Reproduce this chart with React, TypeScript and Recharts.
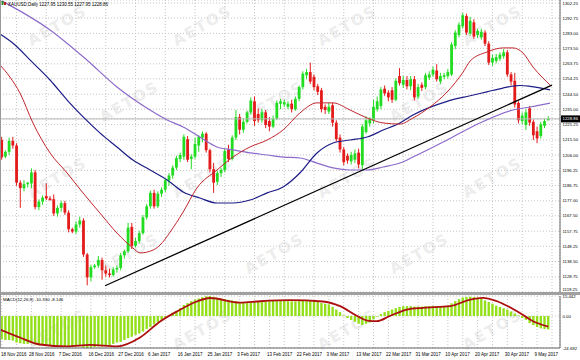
import React from "react";
import {
  ComposedChart,
  Bar,
  Line,
  XAxis,
  YAxis,
  CartesianGrid,
  ReferenceLine,
} from "recharts";

// XAUUSD daily candles, 18 Nov 2016 .. 12 May 2017 (MT4 feed, Sunday bars included)
const open = [
  1215.5, 1205, 1208, 1215, 1212, 1188.5, 1185, 1187.5, 1188, 1195,
  1173, 1176.5, 1180, 1178.5, 1178, 1169, 1172.5, 1175.5, 1169.5, 1159,
  1157.5, 1162, 1164.5, 1143, 1128.5, 1135, 1136, 1139.5, 1133, 1131,
  1130, 1133.5, 1134.5, 1142.5, 1145, 1160.5, 1148.5, 1151.5, 1156.5, 1166.5,
  1173.5, 1182, 1173.5, 1181.5, 1184, 1190, 1193, 1198, 1203.5, 1205,
  1216, 1203.5, 1205, 1212, 1217, 1219.5, 1209, 1197, 1189, 1194.5,
  1196.5, 1209.5, 1203.5, 1217, 1230, 1222, 1227, 1233, 1240, 1232,
  1228, 1233, 1227.5, 1224, 1229, 1238.5, 1238, 1236.5, 1238.5, 1235,
  1241.5, 1249, 1256.5, 1258.5, 1255.5, 1249.5, 1247, 1236.5, 1233.5, 1237.5,
  1226.5, 1217, 1209.5, 1205.5, 1202, 1203, 1207.5, 1199.5, 1220.5, 1226,
  1228, 1235, 1237, 1248, 1245.5, 1247, 1241, 1256, 1250.5, 1253.5,
  1249.5, 1254, 1243, 1250.5, 1249, 1255, 1257, 1259.5, 1252.5, 1255.5,
  1256, 1257, 1275, 1282, 1287.5, 1294, 1283, 1290, 1282, 1280.5,
  1283.5, 1276.5, 1264.5, 1265.5, 1267, 1268.5, 1271, 1257, 1253, 1239,
  1227.5, 1225, 1235.5, 1227, 1221, 1218, 1224.5, 1227.95,
];
const high = [
  1217.5, 1209, 1217, 1217.5, 1213.5, 1190, 1190, 1189, 1197.5, 1196.5,
  1178, 1180.5, 1188, 1180, 1181, 1174, 1177, 1177, 1171, 1160,
  1164, 1167, 1166, 1144, 1136.5, 1137, 1142, 1141, 1136, 1134,
  1135, 1136, 1144, 1146, 1163, 1163, 1153.5, 1158, 1168, 1175,
  1183.5, 1184, 1183, 1185.5, 1191.5, 1194.5, 1199.5, 1205.5, 1207.5, 1219,
  1218, 1206.5, 1217, 1218.5, 1221, 1220.5, 1210, 1201, 1196, 1198,
  1210, 1212.5, 1218.5, 1234.5, 1232, 1229, 1234, 1242.5, 1243, 1235.5,
  1235, 1234.5, 1230, 1231, 1240.5, 1241.5, 1241, 1240, 1241, 1243,
  1250, 1259, 1260.5, 1264.5, 1257, 1251, 1248.5, 1238, 1239, 1239,
  1228, 1219, 1211, 1207, 1208, 1209.5, 1210, 1225.5, 1230.5, 1230,
  1241, 1243, 1249, 1250, 1247, 1249, 1254.5, 1261, 1256, 1256,
  1256, 1256, 1251, 1252, 1258, 1259, 1262, 1263.5, 1258, 1258,
  1260.5, 1277.5, 1285, 1290, 1296, 1295.5, 1293.5, 1292, 1286, 1286,
  1285, 1278, 1269.5, 1270, 1271, 1273, 1272.5, 1258.5, 1258, 1240,
  1233, 1235, 1237, 1228.5, 1224, 1227, 1229, 1230.55,
];
const low = [
  1203, 1204, 1206, 1210, 1186.5, 1172.5, 1183, 1185.5, 1185, 1171.5,
  1171, 1174.5, 1177.5, 1177, 1167.5, 1167, 1170, 1168, 1157, 1156.5,
  1156, 1160, 1141.5, 1123.5, 1126, 1134, 1134.5, 1127, 1129, 1128.5,
  1129, 1131.5, 1133, 1140.5, 1144, 1146.5, 1147.5, 1150, 1155.5, 1165,
  1172, 1172, 1172.5, 1179.5, 1182.5, 1186.5, 1191, 1196.5, 1201.5, 1203,
  1201.5, 1197, 1203.5, 1208, 1214, 1207.5, 1195, 1182, 1187, 1192,
  1195, 1201.5, 1202.5, 1215.5, 1219, 1220, 1226, 1231.5, 1224.5, 1226.5,
  1226.5, 1223, 1221, 1223, 1228, 1235, 1236.5, 1235, 1233, 1234,
  1240, 1247.5, 1254, 1251, 1247, 1244, 1233, 1232, 1232, 1224,
  1214.5, 1207.5, 1199.5, 1200.5, 1200, 1201, 1197.5, 1197, 1219.5, 1224,
  1226, 1233.5, 1235, 1243.5, 1240, 1239, 1240, 1250, 1248.5, 1247.5,
  1247, 1240.5, 1241.5, 1246.5, 1247.5, 1253.5, 1255.5, 1252.5, 1251, 1254,
  1254.5, 1256, 1273, 1280.5, 1286, 1282, 1281.5, 1279.5, 1280, 1279,
  1275, 1263, 1262.5, 1264, 1265.5, 1267, 1255.5, 1250, 1236, 1226,
  1225.5, 1222, 1224.5, 1215.5, 1213.5, 1216.5, 1223, 1227.95,
];
const close = [
  1204.5, 1208, 1215, 1212, 1188.5, 1185, 1187.5, 1188.5, 1195, 1173,
  1176.5, 1179, 1178.5, 1177.5, 1169, 1172.5, 1175.5, 1169.5, 1159, 1157.5,
  1162, 1164.5, 1143, 1128.5, 1135, 1136, 1139.5, 1133, 1131, 1130,
  1133.5, 1134.5, 1142.5, 1145, 1160, 1148.5, 1151.5, 1156.5, 1166.5, 1173.5,
  1182, 1173.5, 1181.5, 1184, 1190, 1193, 1198, 1204, 1206, 1217.5,
  1203, 1205, 1213, 1217.5, 1219.5, 1209, 1197, 1188.5, 1194.5, 1196.5,
  1208.5, 1203.5, 1217, 1230, 1222, 1227, 1233, 1240.5, 1227.5, 1228,
  1233, 1225, 1224, 1229, 1239, 1240, 1239.5, 1238.5, 1235, 1241.5,
  1249, 1257.5, 1258.5, 1252.5, 1249, 1246, 1235, 1234.5, 1236.5, 1226.5,
  1216, 1209.5, 1201.5, 1202.5, 1206, 1207, 1200, 1224, 1228, 1229,
  1236.5, 1240, 1247.5, 1245, 1242.5, 1241, 1253, 1251.5, 1253.5, 1249.5,
  1254, 1242.5, 1249, 1248.5, 1256.5, 1257, 1260, 1254, 1256, 1256.5,
  1258.5, 1276, 1283.5, 1288.5, 1294.5, 1283.5, 1291, 1281, 1284.5, 1284,
  1276.5, 1264.5, 1267.5, 1268, 1269.5, 1271, 1257, 1252.5, 1238, 1228,
  1231, 1233, 1226.5, 1218.5, 1216.5, 1225.5, 1227.5, 1228.86,
];

// MACD(12,26,9) main values (histogram) per bar
const macd = [
  -18, -18.5, -18.5, -19, -20.5, -21, -21.5, -21.5, -21, -22,
  -22.5, -22.5, -22.5, -23, -23, -23, -23, -23.5, -24, -24,
  -23.5, -23.5, -24.5, -24.69, -24.5, -24, -23.5, -23.5, -23, -22.5,
  -21.5, -20.5, -20, -18.5, -17, -16, -14.5, -13.5, -12, -10,
  -8.5, -6.5, -4.5, -2.7, -1, 0.5, 2.5, 4, 6, 8.5,
  10, 11.5, 12.7, 13.5, 14.5, 15.2, 15.44, 14.8, 14, 13.5,
  13, 12.5, 12, 11.5, 10.8, 10.5, 10.3, 10.4, 10.6, 10.8,
  11, 11.2, 11.4, 11.6, 11.8, 12, 11.8, 11.5, 11.3, 11.3,
  11.5, 11.8, 12, 11.8, 11.5, 11, 10, 9.5, 9, 7,
  5, 3, 0.5, -1.5, -3, -4.5, -6, -7, -6, -5,
  -2.5, -0.5, 1.5, 3, 4, 5, 6, 7, 7.5, 7.6,
  7.6, 7.3, 7.2, 7.3, 7.5, 7.6, 7.8, 7.6, 7.5, 7.6,
  8, 9.8, 11.5, 13, 14.3, 14.8, 14.9, 14.6, 14, 13.2,
  12, 10.8, 9.5, 8, 7, 6, 5, 3.5, 2, 0.5,
  -1.5, -3, -5.5, -7, -8.5, -9.5, -10, -10.33,
];

// signal line, read at points [bar, value]
const signal: [number, number][] = [
  [-0.46, -10.4], [4.9, -16.6], [10.3, -22], [17.6, -23.5], [23.7, -22.3],
  [31, -23.5], [37.2, -16.6], [42.6, -4.2], [47.1, 3.5], [52.5, 11.2],
  [56, 13.9], [64.1, 10.4], [69.5, 11.4], [77.5, 12.2], [86.4, 11.2],
  [91, 7.6], [95.6, 0], [98.3, -3.5], [100.9, -4], [104.4, 0],
  [109, 5], [113.3, 6.3], [120.6, 7.6], [126, 12.7], [129.4, 14],
  [133.2, 11.4], [138.6, 3.7], [142.9, -4], [147, -8.146],
];

// moving averages, read at points [bar, price]
const maRed: [number, number][] = [
  [-0.46, 1263], [2.2, 1255.4], [4.9, 1245.3], [8.4, 1226.3], [13, 1207.3],
  [17.6, 1194.6], [21.9, 1181.9], [26.4, 1169.3], [31, 1156.6], [35.3, 1147.1],
  [37.2, 1144], [40.7, 1145.8], [42.6, 1149], [45.3, 1157.2], [48.8, 1169.9],
  [52.5, 1185.1], [57.9, 1196.5], [62.2, 1204.7], [66.8, 1211.1], [71.4, 1215.5],
  [75.7, 1221.9], [80.2, 1232.6], [84.8, 1239], [89.1, 1239], [93.7, 1234.5],
  [98.3, 1229.4], [102.6, 1226.3], [107.1, 1225.6], [110.6, 1229.4], [115.2, 1236.4],
  [119.8, 1245.9], [124.1, 1258.5], [126, 1265.5], [130.5, 1271.2], [134.8, 1273.8],
  [137.5, 1273.8], [140.2, 1270.6], [142.9, 1261.7], [145.3, 1255.4], [147.5, 1250.3],
];
const maNavy: [number, number][] = [
  [-0.46, 1282.6], [3.6, 1275.7], [7.6, 1266.2], [13, 1253.5], [17.6, 1240.8],
  [21.9, 1230.1], [26.4, 1220], [31, 1211.1], [35.3, 1202.8], [39.9, 1196.5],
  [44.5, 1190.2], [48.8, 1182.6], [53.3, 1178.8], [57.9, 1175.6], [62.2, 1175.6],
  [66.8, 1177.5], [71.4, 1182], [75.7, 1185.8], [80.2, 1194.6], [84.8, 1207.3],
  [89.1, 1213.6], [93.7, 1215.5], [98.3, 1217.4], [102.6, 1221.8], [107.1, 1226.3],
  [110.6, 1231.3], [119.8, 1240], [126, 1243.5], [130.5, 1246], [134.8, 1248.4],
  [139.4, 1250], [142.1, 1249.5], [147.5, 1247.2],
];
const maPurple: [number, number][] = [
  [0, 1303.6], [13, 1285.2], [22.9, 1266.2], [31, 1249.1], [39.9, 1234.5],
  [44.5, 1228.2], [48.8, 1223.7], [53.3, 1217.4], [57.9, 1211.1], [62.2, 1209.2],
  [66.8, 1207.3], [71.4, 1206], [75.7, 1204.7], [80.2, 1204.1], [84.8, 1200.9],
  [89.1, 1197.8], [93.7, 1196.5], [98.3, 1196.5], [102.6, 1198.4], [107.1, 1200.9],
  [110.6, 1204.7], [119.8, 1215.5], [128.6, 1226.3], [137.5, 1234.5], [142.1, 1236.4],
  [147.5, 1238.9],
];
const trend: [number, number][] = [
  [27.8, 1123.2],
  [148, 1250.3],
];

const dateTicks = [0, 8, 16, 24, 32, 40, 48, 56, 64, 72, 80, 88, 96, 104, 112, 120, 128, 136, 144];
const dateLabels = [
  "18 Nov 2016", "28 Nov 2016", "7 Dec 2016", "16 Dec 2016", "27 Dec 2016",
  "6 Jan 2017", "16 Jan 2017", "25 Jan 2017", "3 Feb 2017", "13 Feb 2017",
  "22 Feb 2017", "3 Mar 2017", "13 Mar 2017", "22 Mar 2017", "31 Mar 2017",
  "10 Apr 2017", "20 Apr 2017", "30 Apr 2017", "9 May 2017",
];
const priceTicks = [
  1302.25, 1292.75, 1283.0, 1273.5, 1263.75, 1254.25, 1244.5, 1235.0, 1225.25, 1215.5,
  1206.0, 1196.25, 1186.75, 1177.0, 1167.5, 1157.75, 1148.25, 1138.5, 1128.75, 1119.25,
];
const macdTicks = [15.442, 0, -24.692];
const lastPrice = 1228.86;

const BULL = "#22dc22";
const BEAR = "#e31b1b";
const FONT = "'Liberation Sans', Arial, sans-serif";
const X_DOMAIN = [-0.457, 150.16];
const P_DOMAIN = [1119.25, 1304.15];
const gridTicks = Array.from({ length: 38 }, (_, k) => k * 4);

const candles = close.map((c, i) => ({
  i,
  o: open[i],
  h: high[i],
  l: low[i],
  c,
  range: [low[i], high[i]],
}));
const macdRows = macd.map((m, i) => ({ i, m }));
const toRows = (pts: [number, number][]) => pts.map(([i, v]) => ({ i, v }));

function Candle(props: any) {
  const { x, y, width, height, payload } = props;
  if (x == null || y == null) return null;
  const { o, h, l, c } = payload;
  const col = c >= o ? BULL : BEAR;
  const k = h - l > 0 ? height / (h - l) : 0;
  const top = y + (h - Math.max(o, c)) * k;
  const bot = y + (h - Math.min(o, c)) * k;
  const cx = x + width / 2;
  const w = 2.8;
  return (
    <g>
      <line x1={cx} x2={cx} y1={y} y2={y + height} stroke={col} strokeWidth={1} />
      <rect x={cx - w / 2} y={top} width={w} height={Math.max(1, bot - top)} fill={col} />
    </g>
  );
}

function HistBar(props: any) {
  const { x, y, width, height } = props;
  if (x == null || y == null) return null;
  const cx = x + width / 2;
  const w = 2.4;
  const top = height < 0 ? y + height : y;
  return <rect x={cx - w / 2} y={top} width={w} height={Math.abs(height)} fill="#93e01a" />;
}

function PriceTick(props: any) {
  const { x, y, payload } = props;
  const v = payload.value as number;
  if (v === lastPrice) {
    return (
      <g>
        <rect x={x - 2} y={y - 3.5} width={19} height={7} fill="#000" />
        <text x={x - 0.5} y={y} dy={1.5} fontSize={4.3} fill="#fff" fontFamily={FONT}>
          {v.toFixed(2)}
        </text>
      </g>
    );
  }
  // the bottom label sits just above the panel separator
  const dy = v === P_DOMAIN[0] ? -0.8 : 1.5;
  return (
    <text x={x - 0.5} y={y} dy={dy} fontSize={4.3} fill="#000" fontFamily={FONT}>
      {v.toFixed(2)}
    </text>
  );
}

function MacdTick(props: any) {
  const { x, y, payload } = props;
  const v = payload.value as number;
  return (
    <text x={x - 0.5} y={y} dy={1.5} fontSize={4.3} fill="#000" fontFamily={FONT}>
      {v === 0 ? "0.00" : String(v)}
    </text>
  );
}

function DateTick(props: any) {
  const { x, y, payload } = props;
  const k = dateTicks.indexOf(payload.value);
  if (k < 0) return <g />;
  return (
    <text x={Math.max(1, x - 2.5)} y={y + 8} fontSize={4.5} fill="#000" fontFamily={FONT}>
      {dateLabels[k]}
    </text>
  );
}

function Watermark() {
  const items: React.ReactNode[] = [];
  for (let r = 0; r < 5; r++) {
    for (let c = 0; c < 4; c++) {
      const cx = 60 + (r % 2) * 72 + c * 145;
      const cy = 30 + r * 76;
      if (cx > 545) continue;
      items.push(
        <text
          key={`${r}-${c}`}
          x={cx}
          y={cy}
          textAnchor="middle"
          fontSize={15}
          fontWeight="bold"
          fill="#ededed"
          fontFamily="'DejaVu Sans', sans-serif"
          letterSpacing={2}
          transform={`rotate(-30 ${cx} ${cy})`}
        >
          AETOS
        </text>
      );
    }
  }
  return (
    <svg width={580} height={360} style={{ position: "absolute", left: 0, top: 0 }}>
      {items}
    </svg>
  );
}

export default function App() {
  return (
    <div style={{ position: "relative", width: 580, height: 360, background: "#fff", overflow: "hidden" }}>
      <style>{"body{margin:0}"}</style>
      <Watermark />
      <div style={{ position: "absolute", left: 0, top: 0 }}>
        <ComposedChart width={580} height={292} data={candles} margin={{ top: 0, right: 0, bottom: 0, left: 0 }}>
          <CartesianGrid stroke="#c4c4c4" strokeDasharray="1 2" />
          <XAxis type="number" dataKey="i" domain={X_DOMAIN} ticks={gridTicks} allowDataOverflow hide />
          <YAxis
            orientation="right"
            width={20}
            domain={P_DOMAIN}
            allowDataOverflow
            ticks={[...priceTicks, lastPrice]}
            interval={0}
            tick={PriceTick}
            tickLine={false}
            tickSize={0}
            tickMargin={3}
            axisLine={{ stroke: "#666" }}
          />
          <ReferenceLine y={lastPrice} stroke="#b8b8b8" strokeWidth={1} />
          <Bar dataKey="range" shape={Candle} barSize={3} isAnimationActive={false} />
          <Line data={toRows(maPurple)} dataKey="v" type="monotone" stroke="#8d6bcb" strokeWidth={1.2} dot={false} activeDot={false} isAnimationActive={false} />
          <Line data={toRows(maNavy)} dataKey="v" type="monotone" stroke="#1c1c86" strokeWidth={1.2} dot={false} activeDot={false} isAnimationActive={false} />
          <Line data={toRows(maRed)} dataKey="v" type="monotone" stroke="#c0262c" strokeWidth={1} dot={false} activeDot={false} isAnimationActive={false} />
          <Line data={toRows(trend)} dataKey="v" type="linear" stroke="#000" strokeWidth={1.3} dot={false} activeDot={false} isAnimationActive={false} />
        </ComposedChart>
      </div>
      <div style={{ position: "absolute", left: 0, top: 292, width: 580, height: 3, background: "#a0a0a0" }} />
      <div style={{ position: "absolute", left: 0, top: 295 }}>
        <ComposedChart width={580} height={65} data={macdRows} margin={{ top: 1, right: 0, bottom: 0, left: 0 }}>
          <CartesianGrid stroke="#c4c4c4" strokeDasharray="1 2" />
          <XAxis
            type="number"
            dataKey="i"
            domain={X_DOMAIN}
            ticks={gridTicks}
            allowDataOverflow
            interval={0}
            height={12}
            tick={DateTick}
            tickLine={false}
            tickSize={0}
            tickMargin={0}
            axisLine={{ stroke: "#666" }}
          />
          <YAxis
            orientation="right"
            width={20}
            domain={[-24.692, 15.442]}
            allowDataOverflow
            ticks={macdTicks}
            interval={0}
            tick={MacdTick}
            tickLine={false}
            tickSize={0}
            tickMargin={3}
            axisLine={{ stroke: "#666" }}
          />
          <Bar dataKey="m" shape={HistBar} barSize={3} isAnimationActive={false} />
          <Line data={toRows(signal)} dataKey="v" type="monotone" stroke="#ad0f0f" strokeWidth={1.8} dot={false} activeDot={false} isAnimationActive={false} />
        </ComposedChart>
      </div>
      <svg width={580} height={360} style={{ position: "absolute", left: 0, top: 0, pointerEvents: "none" }}>
        <line x1={0.5} x2={0.5} y1={0} y2={348} stroke="#999" />
        <rect x={1.5} y={1} width={2} height={4} fill="#2a8a2a" />
        <rect x={4} y={2} width={2} height={3} fill="#c02020" />
        <text x={8} y={6} fontSize={4.5} fill="#000" fontFamily={FONT}>
          XAUUSD,Daily  1227.95 1230.55 1227.95 1228.86
        </text>
        <text x={3} y={301} fontSize={4.4} fill="#000" fontFamily={FONT}>
          MACD(12,26,9) -10.330 -8.146
        </text>
      </svg>
    </div>
  );
}
